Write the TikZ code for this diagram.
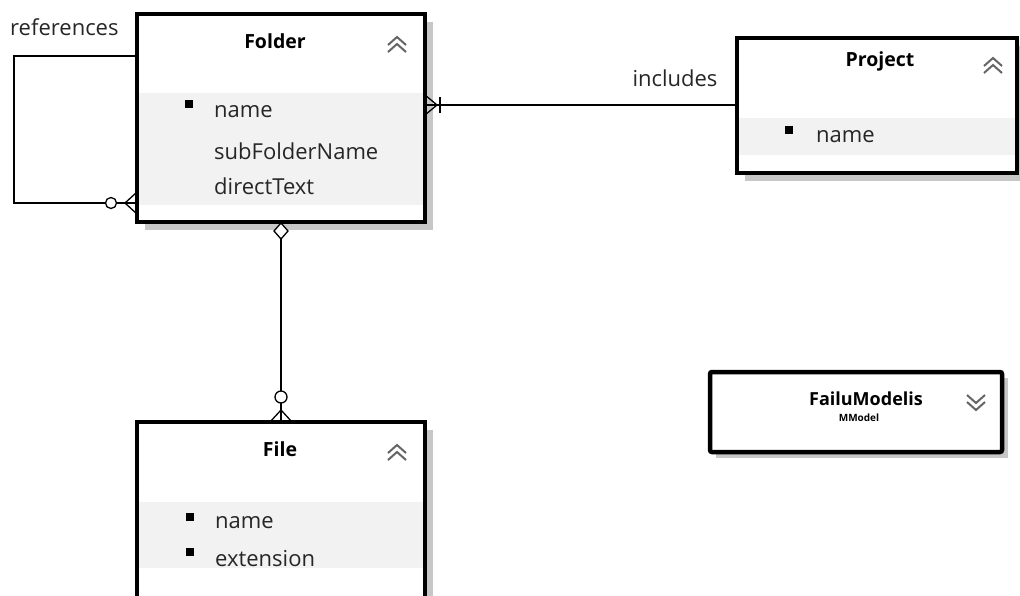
\documentclass[tikz,border=0pt]{standalone}
\usepackage{fontspec}
\setmainfont{Open Sans}
\begin{document}
\begin{tikzpicture}[x=1pt,y=-1pt,
  shadowbox/.style={fill=black!22,draw=none},
  entbox/.style={draw=black,line width=3.2pt,fill=white},
  attrband/.style={fill=black!5,draw=none},
  conn/.style={line width=2.7pt,black},
  thinc/.style={line width=1.3pt,black},
  ttl/.style={font=\fontsize{19.5}{22}\selectfont\bfseries,inner sep=0pt},
  attr/.style={font=\fontsize{22}{24}\selectfont,anchor=west,inner sep=0pt,text=black!85},
  lbl/.style={font=\fontsize{22}{24}\selectfont,inner sep=0pt,text=black!85},
  bul/.style={fill=black,minimum size=8pt,inner sep=0pt,draw=none},
  chev/.style={line width=2pt,black!60}
]
\useasboundingbox (0,0) rectangle (1020,595);
% ---------- Folder ----------
\fill[shadowbox] (145,22) rectangle (433,230);
\draw[entbox] (137,14) rectangle (425,222);
\fill[attrband] (139,93) rectangle (423,205);
\node[ttl] (folderT) at (275,41) {Folder};
\draw[chev] (388,45)--(397,37)--(406,45) (388,52)--(397,44)--(406,52);
\node[bul] (fb1) at (189,104) {};
\node[attr] (fa1) at (214,112) {name};
\node[attr] (fa2) at (214,151) {subFolderName};
\node[attr] (fa3) at (214,186) {directText};
\coordinate (folderL1) at (137,56);
\coordinate (folderL2) at (137,203);
\coordinate (folderR) at (425,105);
\coordinate (folderB) at (281,222);
% ---------- Project ----------
\fill[shadowbox] (745,46) rectangle (1020,181);
\draw[entbox] (737,38) rectangle (1017,173);
\fill[attrband] (739,118) rectangle (1015,155);
\node[ttl] (projT) at (880,61) {Project};
\draw[chev] (984,66)--(993,58)--(1002,66) (984,73)--(993,65)--(1002,73);
\node[bul] (pb1) at (789,130) {};
\node[attr] (pa1) at (816,137) {name};
\coordinate (projL) at (737,105);
% ---------- File ----------
\fill[shadowbox] (145,430) rectangle (433,600);
\draw[entbox] (137,422) rectangle (425,598);
\fill[attrband] (139,502) rectangle (423,568);
\node[ttl] (fileT) at (280,449) {File};
\draw[chev] (388,453)--(397,445)--(406,453) (388,460)--(397,452)--(406,460);
\node[bul] (fib1) at (190,517) {};
\node[attr] (fia1) at (215,523) {name};
\node[bul] (fib2) at (190,552) {};
\node[attr] (fia2) at (215,559) {extension};
\coordinate (fileT0) at (281,422);
% ---------- FailuModelis ----------
\fill[shadowbox] (716,378) rectangle (1008,458);
\draw[draw=black,line width=4.5pt,fill=white,rounded corners=2pt] (710,372) rectangle (1002,452);
\node[ttl,font=\fontsize{18}{20}\selectfont\bfseries] (failT) at (866,399) {FailuModelis};
\node[inner sep=0pt,font=\fontsize{10}{11}\selectfont\bfseries] (failS) at (859,418) {MModel};
\draw[chev] (967,395)--(976,403)--(985,395) (967,402)--(976,410)--(985,402);
% ---------- references (self loop) ----------
\draw[conn] (folderL1) -- (14,56) -- (14,203) -- (105,203);
\draw[thinc] (111,203) circle (5.5);
\draw[conn] (117,203) -- (folderL2);
\draw[thinc] (137,192) -- (125,203) -- (137,214);
\node[lbl,anchor=west] (refL) at (10,27) {references};
% ---------- includes ----------
\draw[conn] (folderR) -- (projL);
\draw[thinc] (425,95) -- (437,105) -- (425,115);
\draw[conn] (440,97) -- (440,113);
\node[lbl] (incL) at (675,78) {includes};
% ---------- Folder - File ----------
\draw[thinc,fill=white] (281,223) -- (288,231) -- (281,239) -- (274,231) -- cycle;
\draw[conn] (281,239) -- (281,391);
\draw[thinc] (281,397) circle (6);
\draw[conn] (281,403) -- (fileT0);
\draw[thinc] (270,422) -- (281,410) -- (292,422);
\end{tikzpicture}
\end{document}
